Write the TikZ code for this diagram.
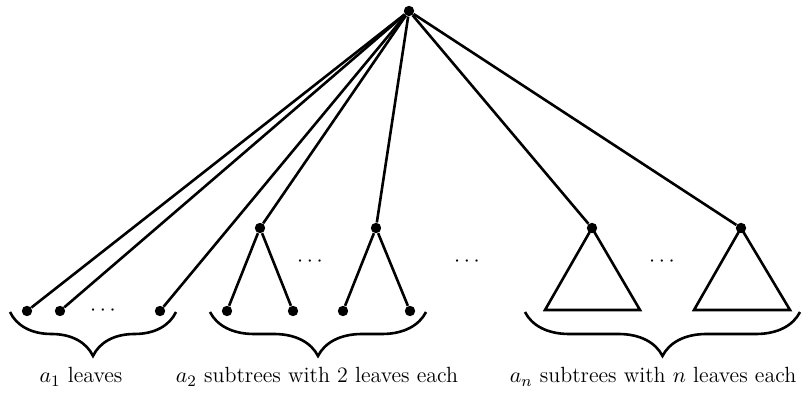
\documentclass[tikz,border=0pt]{standalone}
\usetikzlibrary{
    decorations.pathreplacing,
    positioning
}
\def\lw{1.3pt}
\tikzset{
    vertex/.style={
        circle,
        fill,
        inner sep=0pt,
        minimum size=5.2pt,
    },
    edge/.style = {
        line width=\lw,
    },
    group brace/.style = {
        line width=\lw,
        decorate,
        decoration={brace, mirror, amplitude=22pt}
    },
}
\begin{document}
\begin{tikzpicture}[x=0.5pt, y=-0.5pt, font=\fontsize{11pt}{13pt}\selectfont]
        \useasboundingbox (0,0) rectangle (803,394);

        \node (root) [vertex] at (409,11) {};

        % first group: single leaves
        \node (l1) [vertex] at (27,311) {};
        \node (l2) [vertex] at (60,311) {};
        \node (l3) [vertex] at (160,311) {};
        \node (ld) at (103,311) {$\cdots$};

        % second group: cherries
        \node (s1) [vertex] at (260,228) {};
        \node (s1a) [vertex] at (227,311) {};
        \node (s1b) [vertex] at (293,311) {};
        \node (s2) [vertex] at (376,228) {};
        \node (s2a) [vertex] at (343,311) {};
        \node (s2b) [vertex] at (410,311) {};
        \node (sd) at (310,262) {$\cdots$};

        \node (md) at (467,262) {$\cdots$};

        % last group: triangles
        \node (t1) [vertex] at (592,228) {};
        \node (t2) [vertex] at (741,228) {};
        \node (td) at (662,262) {$\cdots$};

        \foreach \x in {l1,l2,l3,s1,s2,t1,t2}{
            \draw [edge](root) -- (\x);
        }
        \foreach \x in {s1,s2}{
            \draw [edge](\x) -- (\x a);
            \draw [edge](\x) -- (\x b);
        }
        \draw [edge, line join=miter](t1.center) -- ++(-47,82) -- ++(95,0) -- cycle;
        \draw [edge, line join=miter](t2.center) -- ++(-47,82) -- ++(96,0) -- cycle;

        \draw [group brace](10,312) -- (176,312) coordinate[midway] (b1);
        \draw [group brace](210,312) -- (426,312) coordinate[midway] (b2);
        \draw [group brace](525,312) -- (800,312) coordinate[midway] (b3);

        \node (c1) at (81,377) {$a_1$ leaves};
        \node (c2) at (317,377) {$a_2$ subtrees with 2 leaves each};
        \node (c3) at (653,377) {$a_n$ subtrees with $n$ leaves each};

    \end{tikzpicture}
\end{document}
